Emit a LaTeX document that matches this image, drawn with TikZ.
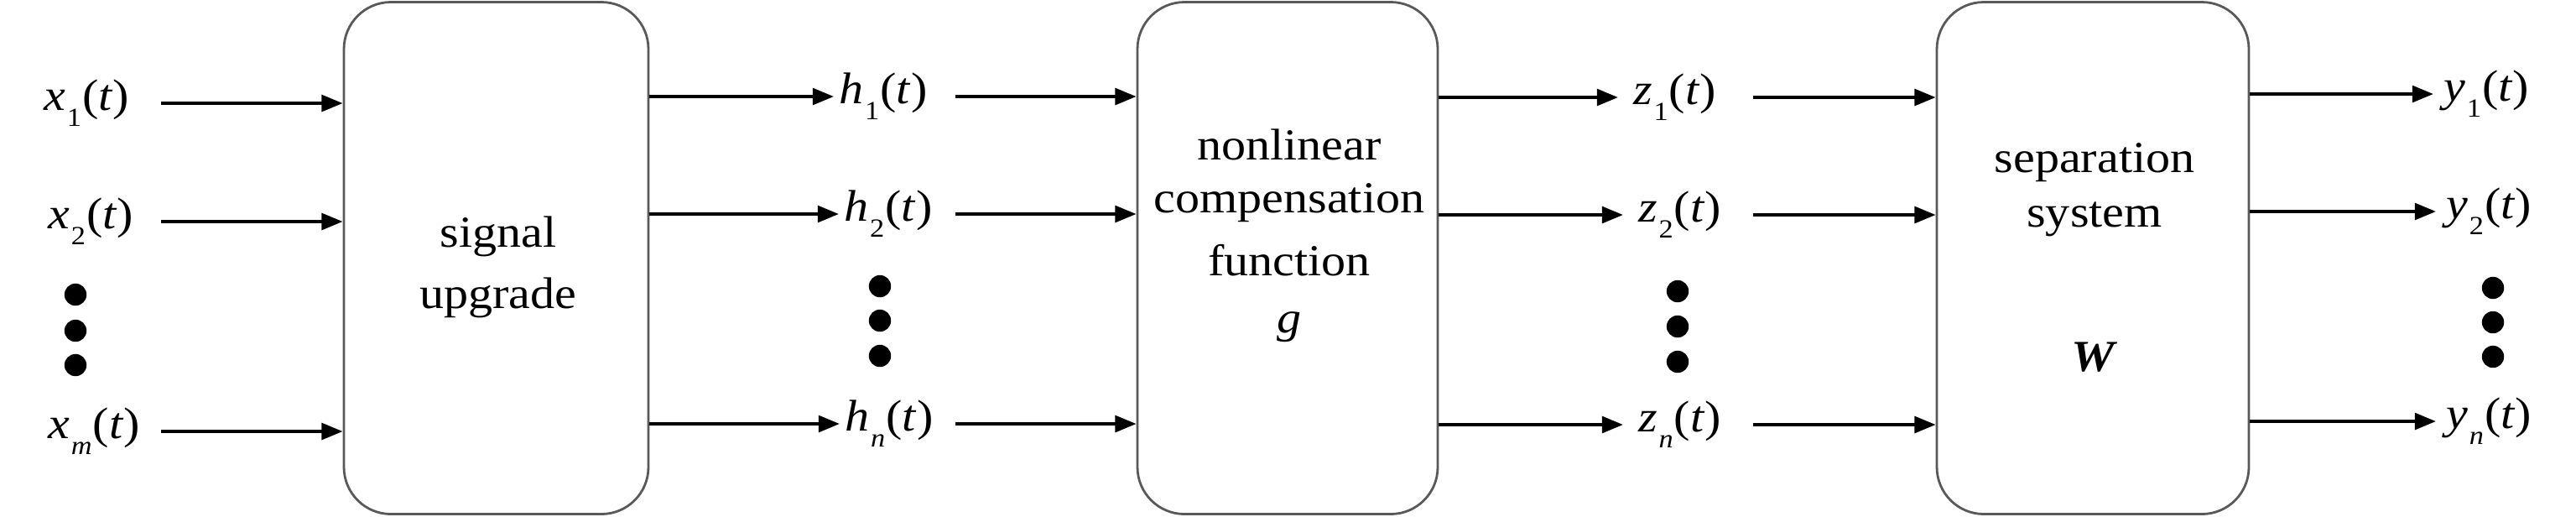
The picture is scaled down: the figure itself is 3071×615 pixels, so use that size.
\documentclass[tikz,border=0pt]{standalone}
\usepackage{fontspec}
\setmainfont{Liberation Serif}[FakeStretch=1.1]
\usetikzlibrary{arrows.meta}
\newcommand\sgl[2]{\textit{#1}\kern0.3pt\raisebox{-4.8pt}{\fontsize{7.8pt}{8pt}\selectfont #2}\kern0.3pt(\textit{t})}
\begin{document}
\begin{tikzpicture}[x=0.25pt,y=-0.25pt,
  blk/.style={draw=black!65, line width=0.7pt, rounded corners=14pt, minimum height=152.5pt, inner sep=0pt},
  lbl/.style={anchor=west, inner sep=0pt, font=\fontsize{13.2pt}{16pt}\selectfont},
  txt/.style={inner sep=0pt, font=\fontsize{13.2pt}{16pt}\selectfont},
  arr/.style={line width=1pt, -{Triangle[length=6.3pt,width=4.9pt]}},
  dotn/.style={circle, fill=black, minimum size=6.6pt, inner sep=0pt}]
\useasboundingbox (0,0) rectangle (3071,615);
% blocks
\node[blk, minimum width=90.75pt] (b1) at (591.5,307.5) {};
\node[blk, minimum width=89.5pt] (b2) at (1535,307.5) {};
\node[blk, minimum width=93pt] (b3) at (2495,307.5) {};
% block texts
\node[txt] (t11) at (594,282) {signal};
\node[txt] (t12) at (594,355) {upgrade};
\node[txt] (t21) at (1537,172) {nonlinear};
\node[txt] (t22) at (1537,242) {compensation};
\node[txt] (t23) at (1537,310) {function};
\node[txt] (t24) at (1537,390) {\textit{g}};
\node[txt] (t31) at (2497,194) {separation};
\node[txt] (t32) at (2497,261) {system};
\node[txt] (t33) at (2497,426) {\textbf{\textit{W}}};
% labels
\node[lbl] (x1) at (52,123) {\sgl{x}{1}};
\node[lbl] (x2) at (57,264) {\sgl{x}{2}};
\node[lbl] (xm) at (57,514) {\sgl{x}{\textit{m}}};
\node[lbl] (h1) at (1000,115) {\sgl{h}{1}};
\node[lbl] (h2) at (1006,255) {\sgl{h}{2}};
\node[lbl] (hn) at (1007,505) {\sgl{h}{\textit{n}}};
\node[lbl] (z1) at (1947,116) {\sgl{z}{1}};
\node[lbl] (z2) at (1953,256) {\sgl{z}{2}};
\node[lbl] (zn) at (1953,506) {\sgl{z}{\textit{n}}};
\node[lbl] (y1) at (2913,112) {\sgl{y}{1}};
\node[lbl] (y2) at (2916,252) {\sgl{y}{2}};
\node[lbl] (yn) at (2916,502) {\sgl{y}{\textit{n}}};
% dots
\foreach \n/\x/\a/\b/\c in {dx/90/351/394/435, dh/1049/341/382/424, dz/2000/347/389/431, dy/2972/343/384/425}{
  \node[dotn] (\n1) at (\x,\a) {};
  \node[dotn] (\n2) at (\x,\b) {};
  \node[dotn] (\n3) at (\x,\c) {};
}
% start coordinates
\coordinate (xs) at (192,0);
\coordinate (hs) at (1139,0);
\coordinate (zs) at (2090,0);
% arrows
\foreach \l in {x1,x2,xm}{\draw[arr] (xs |- \l) -- (\l -| b1.west);}
\foreach \l in {h1,h2,hn}{\draw[arr] (b1.east |- \l) -- ([xshift=-1.5pt]\l.west);}
\foreach \l in {h1,h2,hn}{\draw[arr] (hs |- \l) -- (\l -| b2.west);}
\foreach \l in {z1,z2,zn}{\draw[arr] (b2.east |- \l) -- ([xshift=-4.5pt]\l.west);}
\foreach \l in {z1,z2,zn}{\draw[arr] (zs |- \l) -- (\l -| b3.west);}
\foreach \l in {y1,y2,yn}{\draw[arr] (b3.east |- \l) -- ([xshift=-3pt]\l.west);}
\end{tikzpicture}
\end{document}
